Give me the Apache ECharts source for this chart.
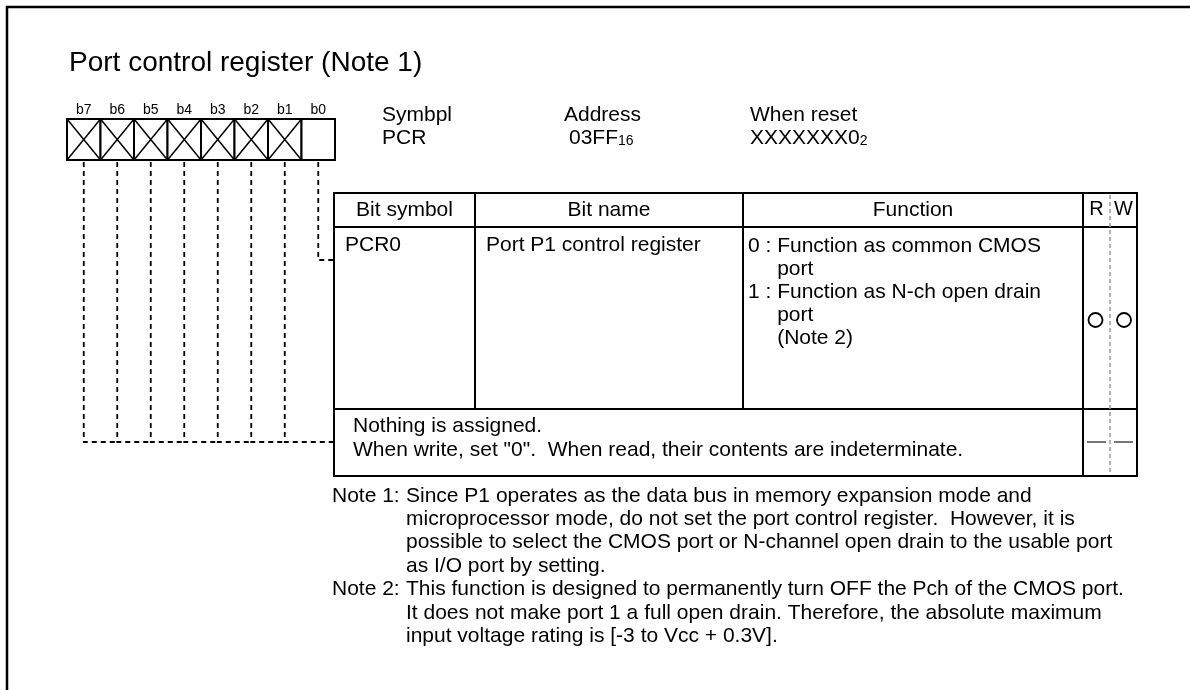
<!DOCTYPE html>
<html>
<head>
<meta charset="utf-8">
<script src="https://cdn.jsdelivr.net/npm/echarts@6/dist/echarts.min.js"></script>
<style>
  html, body { margin: 0; padding: 0; background: #fff; }
  #chart { width: 1190px; height: 690px; }
</style>
</head>
<body>
<div id="chart"></div>
<script>
// ---------------- data ----------------
const titleText = 'Port control register (Note 1)';
const bitLabels = ['b7', 'b6', 'b5', 'b4', 'b3', 'b2', 'b1', 'b0'];
const bitReserved = [1, 1, 1, 1, 1, 1, 1, 0];
const regHeaderLabels = ['Symbpl', 'Address', 'When reset'];
const regValues = ['PCR', '03FF', 'XXXXXXX0'];
const regValueSubs = ['', '16', '2'];
const tableHeaders = ['Bit symbol', 'Bit name', 'Function'];
const rwHeaders = ['R', 'W'];
const bitSymbols = ['PCR0'];
const bitNames = ['Port P1 control register'];
const functionKeys = ['0', '1'];
const functionTexts = [
  ['Function as common CMOS', 'port'],
  ['Function as N-ch open drain', 'port', '(Note 2)']
];
const rwAccess = [1, 1];          // 1 = "O" (available)
const unassignedRW = [0, 0];      // 0 = "—"
const unassignedLines = [
  'Nothing is assigned.',
  'When write, set "0".  When read, their contents are indeterminate.'
];
const noteLabels = ['Note 1:', 'Note 2:'];
const noteLines = [
  [
    'Since P1 operates as the data bus in memory expansion mode and',
    'microprocessor mode, do not set the port control register.  However, it is',
    'possible to select the CMOS port or N-channel open drain to the usable port',
    'as I/O port by setting.'
  ],
  [
    'This function is designed to permanently turn OFF the Pch of the CMOS port.',
    'It does not make port 1 a full open drain. Therefore, the absolute maximum',
    'input voltage rating is [-3 to Vcc + 0.3V].'
  ]
];

// ---------------- layout ----------------
const FONT = '"Liberation Sans", Arial, Helvetica, sans-serif';
const FS = 21;
const T = { left: 334, right: 1137, top: 193, head: 227, row1: 409, bottom: 476,
            col1: 475, col2: 743, rw: 1083, rwMid: 1110 };
const unassignedY = 442;
const b0Y = 260;

const measureCtx = document.createElement('canvas').getContext('2d');
function textWidth(s, size) {
  measureCtx.font = size + 'px ' + FONT;
  return measureCtx.measureText(s).width;
}
function txt(s, x, baseline, size, align) {
  return {
    type: 'text', silent: true,
    style: {
      text: s, x: x, y: baseline - 0.3465 * size,
      font: size + 'px ' + FONT, fill: '#000',
      align: align || 'left', verticalAlign: 'middle'
    }
  };
}
function line(x1, y1, x2, y2, lw, color, dash) {
  return {
    type: 'line', silent: true,
    shape: { x1: x1, y1: y1, x2: x2, y2: y2 },
    style: { stroke: color || '#000', lineWidth: lw || 2, lineDash: dash || null }
  };
}

const g = [];
// outer frame
g.push({ type: 'rect', silent: true, shape: { x: 7, y: 7, width: 1300, height: 800 },
         style: { fill: 'none', stroke: '#000', lineWidth: 2.5 } });
// title
g.push(txt(titleText, 69, 73, 28));

// register info
const regX = [382, 564, 750];
regHeaderLabels.forEach((s, i) => {
  g.push(txt(s, regX[i], 122, FS));
  const vx = regX[i] + (i === 1 ? 5 : 0);
  g.push(txt(regValues[i], vx, 145, FS));
  if (regValueSubs[i]) {
    g.push(txt(regValueSubs[i], vx + textWidth(regValues[i], FS), 146, 14));
  }
});

// table frame
g.push({ type: 'rect', silent: true,
         shape: { x: T.left, y: T.top, width: T.right - T.left, height: T.bottom - T.top },
         style: { fill: 'none', stroke: '#000', lineWidth: 2 } });
g.push(line(T.left, T.head, T.right, T.head, 2));
g.push(line(T.left, T.row1, T.right, T.row1, 2));
g.push(line(T.col1, T.top, T.col1, T.row1, 2));
g.push(line(T.col2, T.top, T.col2, T.row1, 2));
g.push(line(T.rw, T.top, T.rw, T.bottom, 2));
g.push(line(T.rwMid, T.top + 2, T.rwMid, T.bottom - 2, 1.5, '#9a9a9a', [4, 3]));

// header texts
const colCenters = [(T.left + T.col1) / 2, (T.col1 + T.col2) / 2, (T.col2 + T.rw) / 2];
tableHeaders.forEach((s, i) => g.push(txt(s, colCenters[i], 217, FS, 'center')));
const rwCenters = [(T.rw + T.rwMid) / 2, (T.rwMid + T.right) / 2];
rwHeaders.forEach((s, i) => g.push(txt(s, rwCenters[i], 216, 20, 'center')));

// PCR0 row
g.push(txt(bitSymbols[0], 345, 252, FS));
g.push(txt(bitNames[0], 486, 252, FS));
const fx = 748;
let fLine = 0;
functionKeys.forEach((k, i) => {
  const prefix = k + ' : ';
  const indent = fx + textWidth(prefix, FS);
  functionTexts[i].forEach((s, j) => {
    const base = 253 + 23 * fLine;
    if (j === 0) g.push(txt(prefix + s, fx, base, FS));
    else g.push(txt(s, indent, base, FS));
    fLine++;
  });
});
rwAccess.forEach((v, i) => {
  if (v) g.push({ type: 'circle', silent: true, shape: { cx: rwCenters[i] + (i === 0 ? -1 : 0.5), cy: 320, r: 7 },
                  style: { fill: 'none', stroke: '#000', lineWidth: 1.8 } });
});

// unassigned row
unassignedLines.forEach((s, i) => g.push(txt(s, 353, 433 + 24 * i, FS)));
unassignedRW.forEach((v, i) => {
  const c = rwCenters[i];
  if (!v) g.push(line(c - 9.5, unassignedY, c + 9.5, unassignedY, 1.6, '#555'));
});

// notes
const noteX = 332, noteBodyX = 406;
let nLine = 0;
noteLabels.forEach((lab, i) => {
  noteLines[i].forEach((s, j) => {
    const base = 503 + 23.45 * nLine;
    if (j === 0) g.push(txt(lab, noteX, base, FS));
    g.push(txt(s, noteBodyX, base, FS));
    nLine++;
  });
});

// ---------------- chart ----------------
const lastReserved = bitReserved.lastIndexOf(1);
function renderBit(params, api) {
  const i = api.value(0);
  const reserved = api.value(1);
  const top = api.coord([i, 1]);
  const bot = api.coord([i, 0]);
  const w = api.size([1, 0])[0];
  const cx = top[0], x0 = cx - w / 2, x1 = cx + w / 2, yT = top[1], yB = bot[1];
  const children = [{
    type: 'rect', shape: { x: x0, y: yT, width: w, height: yB - yT },
    style: { fill: '#fff', stroke: '#000', lineWidth: 2 }
  }];
  let pts;
  if (reserved) {
    children.push({ type: 'line', shape: { x1: x0, y1: yT, x2: x1, y2: yB }, style: { stroke: '#000', lineWidth: 1.5 } });
    children.push({ type: 'line', shape: { x1: x0, y1: yB, x2: x1, y2: yT }, style: { stroke: '#000', lineWidth: 1.5 } });
    const endX = (i === lastReserved) ? T.left : cx + w;
    pts = [[cx, yB + 2], [cx, unassignedY], [endX, unassignedY]];
  } else {
    pts = [[cx, yB + 2], [cx, b0Y], [T.left, b0Y]];
  }
  children.push({
    type: 'polyline', shape: { points: pts },
    style: { fill: 'none', stroke: '#000', lineWidth: 1.8, lineDash: [5, 4] }
  });
  return { type: 'group', children: children };
}

const chart = echarts.init(document.getElementById('chart'), null, { renderer: 'canvas' });
chart.setOption({
  animation: false,
  backgroundColor: '#fff',
  grid: { left: 67, top: 119, width: 268, height: 41 },
  xAxis: {
    type: 'category', data: bitLabels, position: 'top',
    axisLine: { show: false }, axisTick: { show: false }, splitLine: { show: false },
    axisLabel: { fontSize: 14, fontFamily: FONT, color: '#000', margin: 2 }
  },
  yAxis: { type: 'value', min: 0, max: 1, show: false },
  series: [{
    type: 'custom', clip: false, silent: true,
    data: bitLabels.map((b, i) => [i, bitReserved[i]]),
    renderItem: renderBit
  }],
  graphic: { elements: g }
});
</script>
</body>
</html>
